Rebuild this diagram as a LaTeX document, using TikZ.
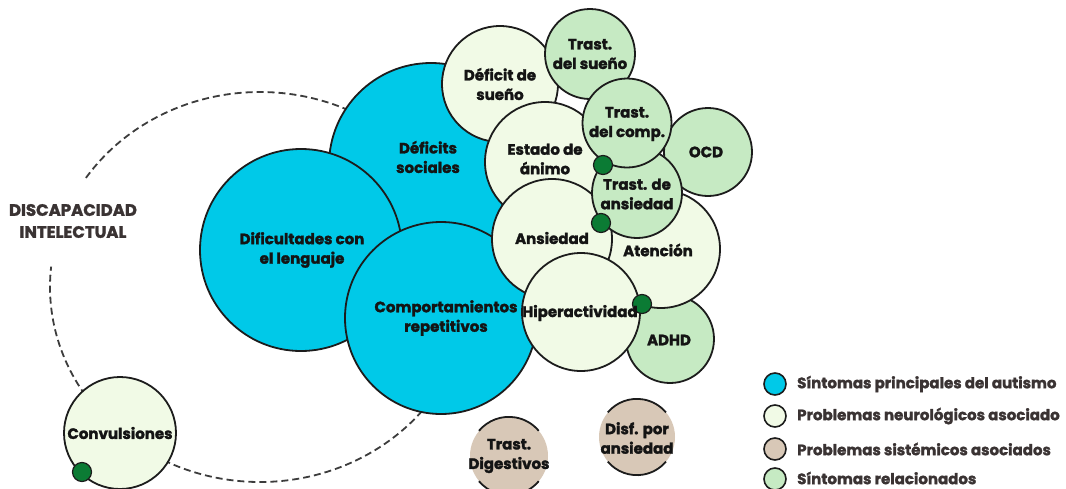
\documentclass[tikz,border=0pt]{standalone}
\usepackage{fontspec}
\setmainfont{Poppins}[BoldFeatures={FakeBold=1.8}]
\definecolor{blueC}{RGB}{0,201,232}
\definecolor{paleC}{RGB}{241,250,230}
\definecolor{greenC}{RGB}{198,234,195}
\definecolor{tanC}{RGB}{216,200,183}
\definecolor{dotC}{RGB}{11,123,52}
\definecolor{lineC}{RGB}{28,28,28}
\definecolor{textC}{RGB}{20,20,20}
\definecolor{legT}{RGB}{58,51,51}
\definecolor{dashC}{RGB}{60,60,60}
\tikzset{
  bub/.style={circle, draw=lineC, line width=1.8pt, inner sep=0pt, minimum size=#1},
  core/.style={bub=#1, fill=blueC},
  neuro/.style={bub=#1, fill=paleC},
  rel/.style={bub=#1, fill=greenC},
  sys/.style={circle, fill=tanC, inner sep=0pt, minimum size=#1},
  dotnode/.style={circle, fill=dotC, draw=lineC, line width=1.2pt, inner sep=0pt, minimum size=19pt},
  txt/.style={align=center, text=textC, font=\fontsize{15}{19.5}\selectfont\bfseries, inner sep=0pt},
  legdot/.style={circle, draw=lineC, line width=1.6pt, inner sep=0pt, minimum size=22pt},
  legtxt/.style={anchor=west, text=legT, font=\fontsize{15}{18}\selectfont\bfseries, inner sep=0pt},
  dashline/.style={draw=dashC, line width=1.8pt, dash pattern=on 7pt off 4pt},
  arcline/.style={draw=lineC, line width=1.8pt}
}
\begin{document}
\begin{tikzpicture}[x=1pt,y=-1pt]
\useasboundingbox (0,0) rectangle (1066,488);
% dashed ellipse (Discapacidad intelectual)
\coordinate (ell) at (260,287);
\draw[dashline] (ell) ++(-146:210 and 195) arc[start angle=-146, end angle=-50, x radius=210, y radius=195];
\draw[dashline] (ell) ++(140:210 and 195) arc[start angle=140, end angle=186, x radius=210, y radius=195];
\draw[dashline] (ell) ++(30:210 and 195) arc[start angle=30, end angle=125, x radius=210, y radius=195];
\node[align=center, text=legT, font=\fontsize{16.5}{22}\selectfont\bfseries, inner sep=0pt] (di) at (73,221) {DISCAPACIDAD\\INTELECTUAL};
% bubbles
\node[core=204pt] (ds) at (431,165) {};
\node[core=202pt] (dl) at (301,250) {};
\node[core=192pt] (cr) at (441,318) {};
\node[neuro=116pt] (dsu) at (500,84) {};
\node[rel=90pt] (tsu) at (590,54) {};
\node[neuro=120pt] (ea) at (545,162) {};
\node[rel=88pt] (ocd) at (708,152) {};
\node[rel=88pt] (adhd) at (670,339) {};
\node[neuro=118pt] (at) at (661,249) {};
\node[neuro=120pt] (an) at (552,239) {};
\node[neuro=118pt] (hi) at (581,312) {};
\node[rel=90pt] (ta) at (637,193) {};
\node[rel=89pt] (tc) at (627,123) {};
\node[neuro=112pt] (cv) at (120,433) {};
\node[sys=78pt] (td) at (509,456) {};
\node[sys=76pt] (dpa) at (637,437) {};
\draw[arcline] (td.140) arc[start angle=-140, end angle=-40, radius=39];
\draw[arcline] (td.220) arc[start angle=140, end angle=40, radius=39];
\draw[arcline] (dpa.140) arc[start angle=-140, end angle=-40, radius=38];
\draw[arcline] (dpa.220) arc[start angle=140, end angle=40, radius=38];
% dots
\node[dotnode] (d1) at (603,165) {};
\node[dotnode] (d2) at (601,223) {};
\node[dotnode] (d3) at (642,304) {};
\node[dotnode] (d4) at (82,472) {};
% texts
\node[txt] (ds-t) at (428,157) {Déficits\\sociales};
\node[txt] (dl-t) at (302,250) {Dificultades con\\el lenguaje};
\node[txt] (cr-t) at (446,318) {Comportamientos\\repetitivos};
\node[txt] (dsu-t) at (500,84) {Déficit de\\sueño};
\node[txt] (tsu-t) at (590,54) {Trast.\\del sueño};
\node[txt] (ea-t) at (545,159) {Estado de\\ánimo};
\node[txt] (ocd-t) at (706,152) {OCD};
\node[txt] (adhd-t) at (669,340) {ADHD};
\node[txt] (at-t) at (658,250) {Atención};
\node[txt] (an-t) at (552,238) {Ansiedad};
\node[txt] (hi-t) at (580,313) {Hiperactividad};
\node[txt] (ta-t) at (637,194) {Trast. de\\ansiedad};
\node[txt] (tc-t) at (627,124) {Trast.\\del comp.};
\node[txt] (cv-t) at (120,433) {Convulsiones};
\node[txt] (td-t) at (509,456) {Trast.\\Digestivos};
\node[txt] (dpa-t) at (637,438) {Disf. por\\ansiedad};
% legend
\node[legdot, fill=blueC] (l1) at (775,384) {};
\node[legdot, fill=paleC] (l2) at (775,416) {};
\node[legdot, fill=tanC] (l3) at (775,449) {};
\node[legdot, fill=greenC] (l4) at (775,479) {};
\node[legtxt] (l1-t) at (797,384) {Síntomas principales del autismo};
\node[legtxt] (l2-t) at (797,416) {Problemas neurológicos asociado};
\node[legtxt] (l3-t) at (797,449) {Problemas sistémicos asociados};
\node[legtxt] (l4-t) at (797,478) {Síntomas relacionados};
\end{tikzpicture}
\end{document}
